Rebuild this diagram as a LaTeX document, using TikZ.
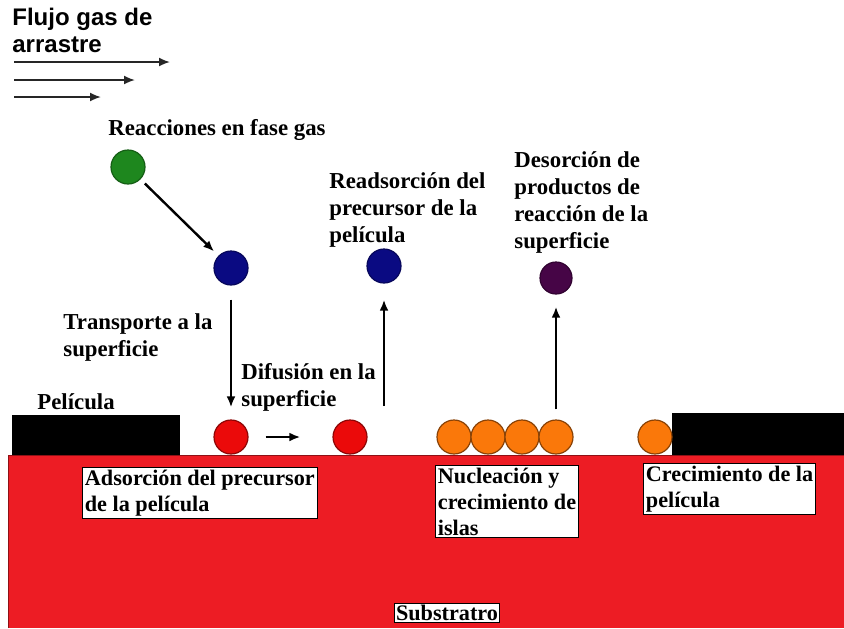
\documentclass[tikz,border=0pt]{standalone}
\usepackage{fontspec}
\setmainfont{Liberation Serif}
\newfontfamily\flowfont{Liberation Sans}
\usetikzlibrary{arrows.meta}
\definecolor{substred}{RGB}{237, 28, 36}
\definecolor{gasgreen}{RGB}{30, 135, 30}
\definecolor{precblue}{RGB}{10, 10, 130}
\definecolor{prodpurple}{RGB}{70, 5, 70}
\definecolor{adsred}{RGB}{235, 10, 10}
\definecolor{islorange}{RGB}{250, 120, 10}

\begin{document}
\begin{tikzpicture}[x=0.5pt, y=-0.5pt,
    dot/.style={circle, line width=0.6pt, minimum size=17pt, inner sep=0pt},
    lbl/.style={font=\fontsize{11.4}{13.5}\selectfont\bfseries, align=left,
                anchor=north west, inner sep=0pt},
    box/.style={draw, fill=white, line width=0.5pt, align=left,
                font=\fontsize{11.1}{13}\selectfont\bfseries,
                anchor=north west, inner sep=1.2pt},
    mv/.style={-{Latex[length=5.5pt, width=4.4pt]}, line width=1.2pt},
    fl/.style={-{Latex[length=5.5pt, width=4.5pt]}, line width=0.9pt, black!85}
]
\useasboundingbox (0,0) rectangle (844,628);

% Substrate and film
\fill[substred] (8,455) rectangle (844,628);
\draw[substred!60!black, line width=0.4pt] (8,628) -- (8,455) -- (844,455);
\fill[black] (12,415) rectangle (180,455);
\fill[black] (672,413) rectangle (844,455);

% Carrier gas flow
\node[font=\fontsize{12}{13.5}\selectfont\flowfont\bfseries, align=left,
      anchor=north west, inner sep=0pt] (flow) at (12,8) {Flujo gas de\\arrastre};
\foreach \y/\len [count=\i] in {62/170, 80/135, 97/101} {
    \coordinate (f\i a) at (14,\y);
    \coordinate (f\i b) at (\len,\y);
    \draw[fl] (f\i a) -- (f\i b);
}

% Species
\node[dot, fill=gasgreen, draw=gasgreen!70!black]     (gas)  at (128,167) {};
\node[dot, fill=precblue, draw=precblue!70!black]     (prec) at (231,268) {};
\node[dot, fill=precblue, draw=precblue!70!black]     (rdso) at (384,266) {};
\node[dot, fill=prodpurple, draw=prodpurple!70!black, minimum size=16pt] (prod) at (556,278) {};
\node[dot, fill=adsred, draw=adsred!60!black]         (ads)  at (231,437) {};
\node[dot, fill=adsred, draw=adsred!60!black]         (dif)  at (350,437) {};
\foreach \x [count=\i] in {454, 488, 522, 556} {
    \node[dot, fill=islorange, draw=islorange!55!black] (isl\i) at (\x,437) {};
}
\node[dot, fill=islorange, draw=islorange!55!black]   (grow) at (655,437) {};
\coordinate (rdsoin) at (384,406);

% Processes
\draw[mv, shorten <=3pt, shorten >=3pt] (gas) -- (prec);
\draw[mv, shorten <=7pt, shorten >=6pt] (prec) -- (ads);
\draw[mv, shorten <=8.5pt, shorten >=16pt] (ads) -- (dif);
\draw[mv, shorten >=8pt] (rdsoin) -- (rdso);
\draw[mv, shorten <=5pt, shorten >=6pt] (isl4) -- (prod);

% Labels
\node[lbl] (lgas)  at (108,119) {Reacciones en fase gas};
\node[lbl] (lrdso) at (329,172) {Readsorción del\\precursor de la\\película};
\node[lbl] (lprod) at (514,151) {Desorción de\\productos de\\reacción de la\\superficie};
\node[lbl] (ltrn)  at (63,313)  {Transporte a la\\superficie};
\node[lbl] (ldif)  at (241,363) {Difusión en la\\superficie};
\node[lbl] (lfilm) at (37,393)  {Película};

% Boxed labels
\node[box] (bads)  at (82,467)  {Adsorción del precursor\\de la película};
\node[box] (bisl)  at (435,465) {Nucleación y\\crecimiento de\\islas};
\node[box] (bgrow) at (643,463) {Crecimiento de la\\película};
\node[box, anchor=center, inner sep=0.8pt] (bsub) at (447,613) {Substratro};

\end{tikzpicture}
\end{document}
